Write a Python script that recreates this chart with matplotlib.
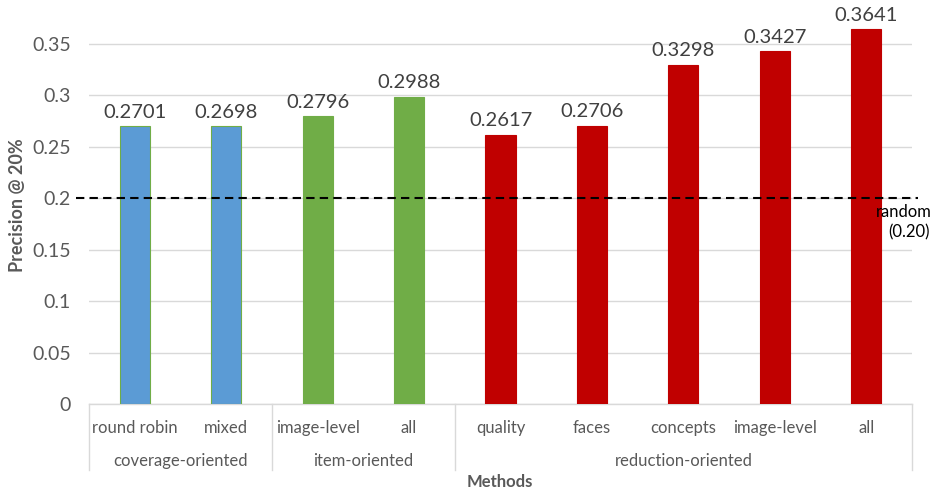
import matplotlib
matplotlib.use("Agg")
import matplotlib.pyplot as plt
import matplotlib.transforms as mtransforms
import numpy as np

# precision @ 20% per selection method
methods = ["round robin", "mixed", "image-level", "all",
           "quality", "faces", "concepts", "image-level", "all"]
precision = [0.2701, 0.2698, 0.2796, 0.2988,
             0.2617, 0.2706, 0.3298, 0.3427, 0.3641]
groups = ["coverage-oriented", "item-oriented", "reduction-oriented"]
group_sizes = [2, 2, 5]
random_baseline = 0.20

group_colors = ["#5B9BD5", "#70AD47", "#C00000"]
text_col = "#595959"
grid_col = "#D9D9D9"

plt.rcParams["font.family"] = ["Lato", "DejaVu Sans"]

fig = plt.figure(figsize=(9.35, 4.91), dpi=100)
ax = fig.add_axes([89 / 935, 1 - 404 / 491, 823 / 935, (404 - 23.4) / 491])

x = np.arange(len(methods))
colors = []
edges = []
for g, n in enumerate(group_sizes):
    colors += [group_colors[g]] * n
    edges += (["#70AD47"] if g == 0 else [group_colors[g]]) * n

bars = ax.bar(x, precision, width=0.33, color=colors, edgecolor=edges,
              linewidth=0.8, zorder=3)

for xi, v in zip(x, precision):
    ax.annotate(f"{v:.4f}", (xi, v), xytext=(0, 4), textcoords="offset points",
                ha="center", va="bottom", fontsize=14.5, color="#404040")

ax.set_xlim(-0.5, len(methods) - 0.5)
ax.set_ylim(0, 0.37)
ax.set_yticks(np.arange(0, 0.36, 0.05))
ax.set_yticklabels(["0", "0.05", "0.1", "0.15", "0.2", "0.25", "0.3", "0.35"])
ax.tick_params(axis="y", length=0, pad=13, labelsize=14, labelcolor=text_col)
ax.set_xticks([])
ax.grid(axis="y", color=grid_col, linewidth=1, zorder=0)
for s in ["top", "right", "left"]:
    ax.spines[s].set_visible(False)
ax.spines["bottom"].set_color(grid_col)
ax.spines["bottom"].set_linewidth(1)

# baseline
ax.plot([-0.64, 8.57], [random_baseline, random_baseline], color="black",
        linestyle=(0, (4, 2.5)), linewidth=1.5, clip_on=False, zorder=4)
fig.text(932 / 935, 1 - 212 / 491, "random", fontsize=12, color="black",
         ha="right", va="center")
fig.text(909 / 935, 1 - 232 / 491, "(0.20)", fontsize=12, color="black",
         ha="center", va="center")

# category and group labels under the axis
trans = mtransforms.blended_transform_factory(ax.transData, ax.transAxes)
px = 1 / 380.6
for xi, name in zip(x, methods):
    ax.text(xi, -24 * px, name, transform=trans, ha="center", va="center",
            fontsize=12, color=text_col)

start = 0
bounds = [-0.5]
for g, n in enumerate(group_sizes):
    mid = start + (n - 1) / 2
    ax.text(mid, -57 * px, groups[g], transform=trans, ha="center",
            va="center", fontsize=12, color=text_col)
    start += n
    bounds.append(start - 0.5)
for b in bounds:
    ax.plot([b, b], [0, -66 * px], transform=trans, color=grid_col,
            linewidth=1, clip_on=False)

fig.text(500 / 935, 1 - 482 / 491, "Methods", ha="center", va="center",
         fontsize=12, fontweight="bold", color=text_col)
fig.text(18 / 935, 1 - 205 / 491, "Precision @ 20%", ha="center", va="center",
         rotation=90, fontsize=13, fontweight="bold", color=text_col)

fig.savefig("out.png", dpi=100)
